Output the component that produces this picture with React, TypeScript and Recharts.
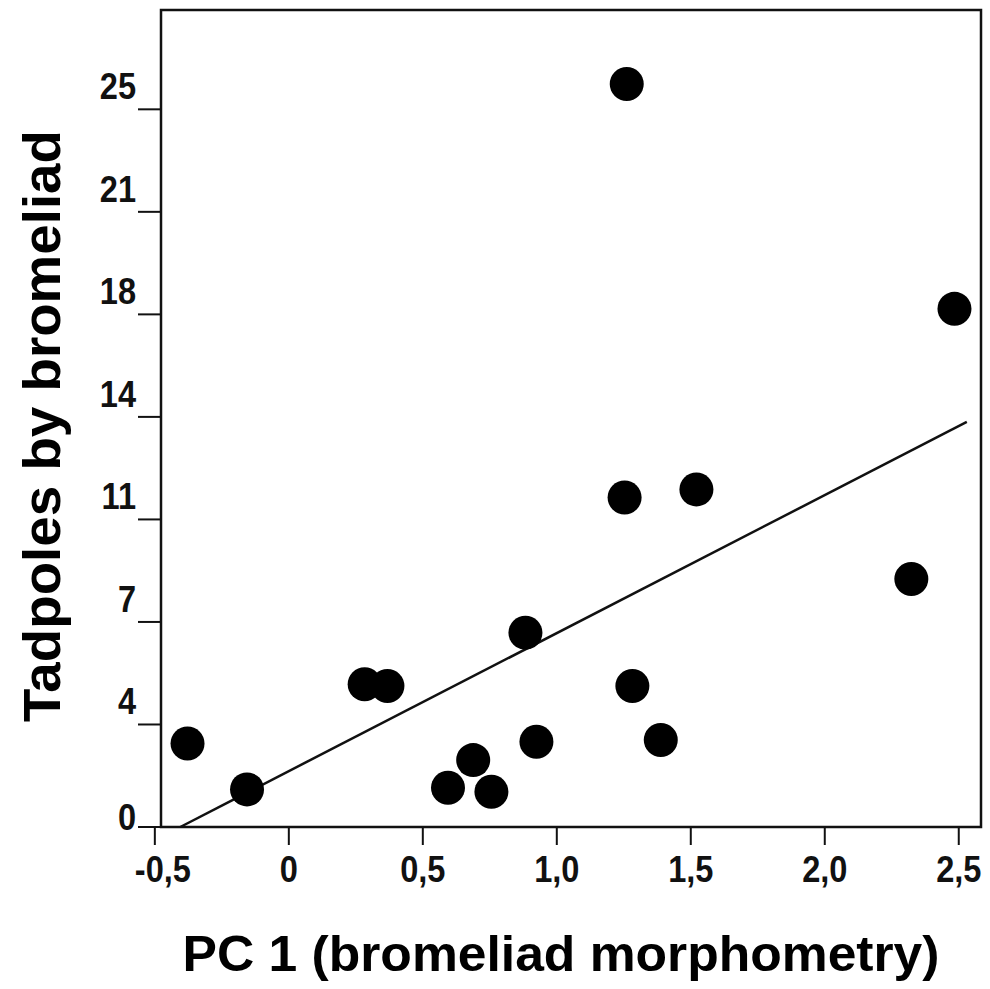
import { ScatterChart, Scatter, XAxis, YAxis, ReferenceLine, ReferenceArea } from 'recharts'

// PC 1 score and tadpole count per bromeliad
const pc1 = [-0.378, -0.156, 0.283, 0.368, 0.594, 0.688, 0.756, 0.924, 0.883, 1.253, 1.521, 1.282, 1.388, 1.261, 2.323, 2.484]
const tadpoles = [2.91, 1.31, 4.97, 4.91, 1.37, 2.33, 1.23, 2.97, 6.77, 11.48, 11.76, 4.91, 3.03, 25.88, 8.64, 18.05]

const xTicks = [-0.5, 0, 0.5, 1, 1.5, 2, 2.5]
const xTickLabels = ['-0,5', '0', '0,5', '1,0', '1,5', '2,0', '2,5']
const yTicks = [0, 3.571, 7.143, 10.714, 14.286, 17.857, 21.429, 25]
const yTickLabels = ['0', '4', '7', '11', '14', '18', '21', '25']

// regression line ends
const fitX = [-0.405, 2.53]
const fitY = [0, 14.11]

const xDomain = [-0.477, 2.583]
const yDomain = [0, 28.46]

const points = pc1.map((x, i) => ({ x, y: tadpoles[i] }))

const font = "'Liberation Sans', Arial, sans-serif"
const ink = '#111'

const XTick = (props: any) => {
  const v = props.payload.value
  const i = xTicks.indexOf(v)
  // minus sign hangs to the left, like the original
  const shift = v < 0 ? 8 : 0
  return (
    <text
      transform={`translate(${props.x + shift},${props.y + 35}) scale(0.88,1)`}
      textAnchor="middle"
      fontFamily={font}
      fontWeight="bold"
      fontSize={37}
      fill={ink}
    >
      {xTickLabels[i]}
    </text>
  )
}

const YTick = (props: any) => {
  const v = props.payload.value
  const i = yTicks.indexOf(v)
  const y = v === 0 ? props.y + 3 : props.y - 10
  return (
    <text
      transform={`translate(${props.x},${y}) scale(0.88,1)`}
      textAnchor="end"
      fontFamily={font}
      fontWeight="bold"
      fontSize={37}
      fill={ink}
    >
      {yTickLabels[i]}
    </text>
  )
}

const Dot = (props: any) => <circle cx={props.cx} cy={props.cy} r={17} fill="#000" />

export default function App() {
  return (
    <div style={{ position: 'absolute', left: 0, top: 0, background: '#fff' }}>
      <ScatterChart width={990} height={989} margin={{ top: 10, right: 9, bottom: 0, left: 0 }}>
        <ReferenceArea
          x1={xDomain[0]}
          x2={xDomain[1]}
          y1={yDomain[0]}
          y2={yDomain[1]}
          fill="none"
          fillOpacity={0}
          stroke={ink}
          strokeWidth={2.5}
        />
        <XAxis
          type="number"
          dataKey="x"
          domain={xDomain}
          ticks={xTicks}
          allowDataOverflow
          height={162}
          tickSize={18}
          axisLine={{ stroke: ink, strokeWidth: 2 }}
          tickLine={{ stroke: ink, strokeWidth: 2 }}
          tick={<XTick />}
          label={{
            content: () => (
              <text
                x={561}
                y={971}
                textAnchor="middle"
                fontFamily={font}
                fontWeight="bold"
                fontSize={50}
                fill="#000"
                textLength={757}
                lengthAdjust="spacingAndGlyphs"
              >
                PC 1 (bromeliad morphometry)
              </text>
            ),
          }}
        />
        <YAxis
          type="number"
          dataKey="y"
          domain={yDomain}
          ticks={yTicks}
          allowDataOverflow
          width={161}
          tickSize={23}
          axisLine={{ stroke: ink, strokeWidth: 2 }}
          tickLine={{ stroke: ink, strokeWidth: 2 }}
          tick={<YTick />}
          label={{
            content: () => (
              <text
                x={60}
                y={426}
                transform="rotate(-90 60 426)"
                textAnchor="middle"
                fontFamily={font}
                fontWeight="bold"
                fontSize={51}
                fill="#000"
                textLength={592}
                lengthAdjust="spacingAndGlyphs"
              >
                Tadpoles by bromeliad
              </text>
            ),
          }}
        />
        <ReferenceLine
          segment={[{ x: fitX[0], y: fitY[0] }, { x: fitX[1], y: fitY[1] }]}
          stroke={ink}
          strokeWidth={2.5}
        />
        <Scatter data={points} shape={<Dot />} isAnimationActive={false} />
      </ScatterChart>
    </div>
  )
}
